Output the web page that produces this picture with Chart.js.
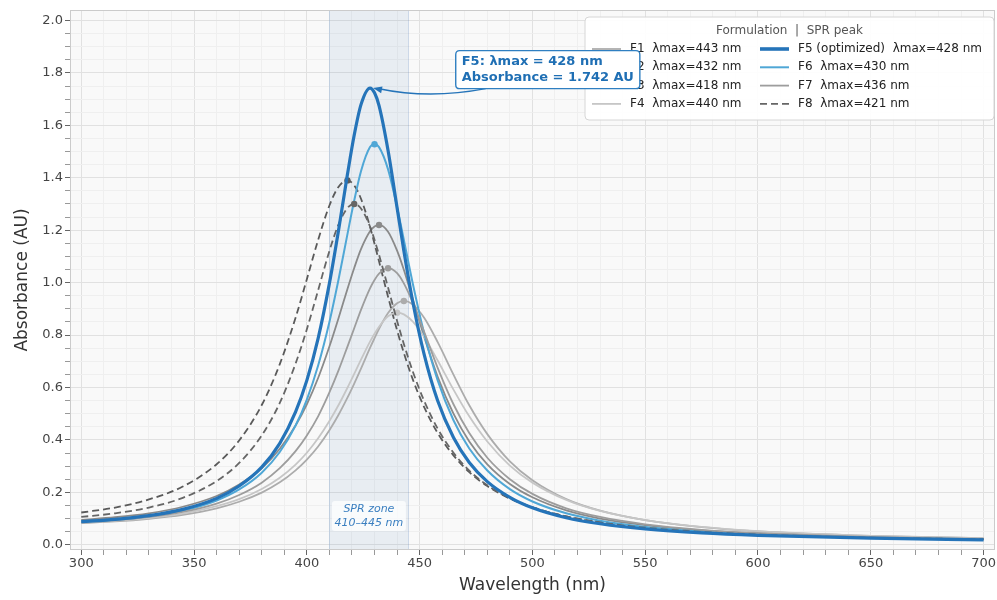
<!DOCTYPE html>
<html>
<head>
<meta charset="utf-8">
<script src="https://cdn.jsdelivr.net/npm/chart.js@4.4.0/dist/chart.umd.min.js"></script>
<style>
  html, body { margin: 0; padding: 0; background: #fff; }
  #wrap { width: 997px; height: 600px; }
</style>
</head>
<body>
<div id="wrap"><canvas id="sprChart" width="997" height="600"></canvas></div>
<script>
// wavelength grid (nm) shared by all spectra
var wavelengths = [300,315,330,345,360,370,380,388,395,400,405,410,414,418,421,424,428,430,432,436,
                   440,443,447,452,458,465,472,480,490,500,515,530,550,575,600,650,700];

// absorbance (AU)
var f1 = [.083,.089,.099,.114,.139,.164,.199,.238,.284,.325,.375,.437,.495,.561,.615,.672,.751,.788,.824,.884,
          .921,.930,.916,.866,.773,.649,.532,.422,.318,.246,.174,.130,.094,.067,.051,.034,.025];
var f2 = [.095,.105,.120,.145,.186,.230,.292,.366,.455,.536,.636,.756,.863,.976,1.056,1.128,1.196,1.214,1.220,1.194,
          1.122,1.049,.936,.794,.641,.500,.394,.307,.232,.181,.131,.100,.075,.055,.043,.029,.022];
var f3 = [.123,.142,.173,.222,.307,.398,.533,.689,.866,1.013,1.163,1.294,1.365,1.390,1.371,1.320,1.213,1.148,1.081,.946,
          .818,.732,.630,.525,.426,.341,.277,.224,.176,.143,.108,.086,.066,.050,.040,.028,.022];
var f4 = [.085,.092,.102,.119,.147,.174,.213,.256,.306,.351,.406,.472,.532,.599,.652,.706,.775,.805,.832,.872,
          .885,.879,.851,.793,.703,.592,.490,.394,.302,.237,.171,.129,.094,.068,.052,.034,.025];
var f5 = [.088,.097,.111,.135,.177,.224,.296,.387,.507,.627,.787,.997,1.197,1.413,1.563,1.679,1.742,1.724,1.675,1.504,
          1.286,1.122,.925,.726,.549,.409,.314,.241,.181,.141,.103,.080,.060,.045,.036,.025,.019];
var f6 = [.087,.095,.108,.130,.169,.211,.275,.354,.455,.554,.684,.850,1.010,1.185,1.313,1.425,1.517,1.528,1.517,1.432,
          1.288,1.163,.995,.807,.627,.475,.367,.283,.212,.165,.120,.092,.068,.051,.040,.027,.021];
var f7 = [.087,.094,.106,.125,.157,.190,.237,.292,.357,.417,.490,.581,.664,.756,.826,.896,.978,1.010,1.034,1.055,
          1.036,.997,.923,.812,.675,.536,.426,.332,.250,.194,.139,.106,.078,.057,.044,.030,.022];
var f8 = [.106,.120,.142,.179,.243,.312,.417,.541,.691,.822,.971,1.121,1.221,1.285,1.300,1.283,1.214,1.163,1.106,.981,
          .854,.766,.660,.549,.443,.351,.283,.227,.178,.143,.108,.085,.065,.049,.039,.027,.021];

var formulations = ['F1','F2','F3','F4','F5 (optimized)','F6','F7','F8'];
var lambdaMax = [443,432,418,440,428,430,436,421];
var series = [f1,f2,f3,f4,f5,f6,f7,f8];

var xMajorTicks = [300,350,400,450,500,550,600,650,700];
var yMajorTicks = [0.0,0.2,0.4,0.6,0.8,1.0,1.2,1.4,1.6,1.8,2.0];
var sprZone = [410,445];
var f5PeakNm = 428, f5PeakAbs = 1.742;

// styles
var colors  = ['#acacac','#8a8a8a','#5a5a5a','#c6c6c6','#2574b9','#4fa7d6','#9d9d9d','#666666'];
var widths  = [1.8,1.8,1.8,1.8,3.2,2,1.8,1.8];
var dashes  = [[],[],[7,4],[],[],[],[],[7,4]];

var FONT = "'DejaVu Sans', sans-serif";
Chart.defaults.font.family = FONT;

function peakIndex(arr){ return arr.indexOf(Math.max.apply(null, arr)); }

var datasets = series.map(function(vals, i){
  var pk = peakIndex(vals);
  return {
    label: formulations[i] + '  \u03bbmax=' + lambdaMax[i] + ' nm',
    data: wavelengths.map(function(w, j){ return {x: w, y: vals[j]}; }),
    borderColor: colors[i],
    backgroundColor: colors[i],
    borderWidth: widths[i],
    borderDash: dashes[i],
    cubicInterpolationMode: 'monotone',
    fill: false,
    pointRadius: function(ctx){ return ctx.dataIndex === pk ? (i === 4 ? 0 : 3.2) : 0; },
    pointBorderWidth: 0,
    pointBackgroundColor: colors[i],
    order: i === 4 ? 0 : 8 - i
  };
});

function roundRect(ctx, x, y, w, h, r){
  ctx.beginPath();
  ctx.moveTo(x + r, y);
  ctx.lineTo(x + w - r, y); ctx.quadraticCurveTo(x + w, y, x + w, y + r);
  ctx.lineTo(x + w, y + h - r); ctx.quadraticCurveTo(x + w, y + h, x + w - r, y + h);
  ctx.lineTo(x + r, y + h); ctx.quadraticCurveTo(x, y + h, x, y + h - r);
  ctx.lineTo(x, y + r); ctx.quadraticCurveTo(x, y, x + r, y);
  ctx.closePath();
}

var decor = {
  id: 'decor',
  beforeDraw: function(chart){
    var c = chart.ctx, a = chart.chartArea;
    c.save();
    c.fillStyle = '#f9f9f9';
    c.fillRect(a.left, a.top, a.right - a.left, a.bottom - a.top);
    c.restore();
  },
  beforeDatasetsDraw: function(chart){
    var c = chart.ctx, a = chart.chartArea, xs = chart.scales.x, ys = chart.scales.y;
    var x0 = xs.getPixelForValue(sprZone[0]), x1 = xs.getPixelForValue(sprZone[1]);
    c.save();
    c.fillStyle = 'rgba(70,120,180,0.09)';
    c.fillRect(x0, a.top, x1 - x0, a.bottom - a.top);
    c.strokeStyle = 'rgba(70,120,180,0.22)';
    c.lineWidth = 1;
    c.beginPath();
    c.moveTo(Math.round(x0) + 0.5, a.top); c.lineTo(Math.round(x0) + 0.5, a.bottom);
    c.moveTo(Math.round(x1) + 0.5, a.top); c.lineTo(Math.round(x1) + 0.5, a.bottom);
    c.stroke();
    // zone label
    var cx = (x0 + x1) / 2, cy = ys.getPixelForValue(0.11);
    c.fillStyle = 'rgba(255,255,255,0.75)';
    roundRect(c, cx - 37, cy - 15, 74, 30, 3);
    c.fill();
    c.fillStyle = '#3a7fc0';
    c.font = 'italic 11px ' + FONT;
    c.textAlign = 'center';
    c.textBaseline = 'middle';
    c.fillText('SPR zone', cx, cy - 6.5);
    c.fillText('410\u2013445 nm', cx, cy + 7);
    c.restore();
  },
  afterDatasetsDraw: function(chart){
    var c = chart.ctx, a = chart.chartArea, xs = chart.scales.x, ys = chart.scales.y;
    c.save();
    // frame
    c.strokeStyle = '#cbcbcb';
    c.lineWidth = 1;
    c.strokeRect(Math.round(a.left) + 0.5, Math.round(a.top) + 0.5,
                 Math.round(a.right - a.left) - 1, Math.round(a.bottom - a.top) - 1);

    // legend
    var lx = 585, ly = a.top + 7, lw = 409, lh = 103;
    c.fillStyle = 'rgba(255,255,255,0.92)';
    roundRect(c, lx, ly, lw, lh, 4);
    c.fill();
    c.strokeStyle = '#d6d6d6';
    c.stroke();
    c.fillStyle = '#555';
    c.font = '12px ' + FONT;
    c.textAlign = 'center';
    c.textBaseline = 'middle';
    c.fillText('Formulation  |  SPR peak', lx + lw / 2, ly + 14);
    c.textAlign = 'left';
    datasets.forEach(function(ds, i){
      var col = i < 4 ? 0 : 1, row = i % 4;
      var x0 = lx + 7 + col * 168, yy = ly + 32 + row * 18.3;
      c.strokeStyle = ds.borderColor;
      c.lineWidth = i === 4 ? 3.6 : ds.borderWidth;
      c.setLineDash(ds.borderDash);
      c.beginPath(); c.moveTo(x0, yy); c.lineTo(x0 + 29, yy); c.stroke();
      c.setLineDash([]);
      c.fillStyle = '#222';
      c.font = '12px ' + FONT;
      c.fillText(ds.label, x0 + 38, yy);
    });

    // F5 peak annotation
    var px = xs.getPixelForValue(f5PeakNm), py = ys.getPixelForValue(f5PeakAbs);
    var bx = xs.getPixelForValue(466), by = ys.getPixelForValue(1.885);
    var l1 = 'F5: \u03bbmax = ' + f5PeakNm + ' nm', l2 = 'Absorbance = ' + f5PeakAbs.toFixed(3) + ' AU';
    c.font = 'bold 13px ' + FONT;
    var tw = Math.max(c.measureText(l1).width, c.measureText(l2).width);
    var bw = tw + 12, bh = 38;
    // arrow
    var sx = bx + 30, sy = by + bh;
    var tx = px + 3, ty = py;
    var qx = (sx + tx) / 2, qy = (sy + ty) / 2 + 11;
    c.strokeStyle = '#2574b9';
    c.lineWidth = 1.5;
    c.beginPath(); c.moveTo(sx, sy); c.quadraticCurveTo(qx, qy, tx + 6, ty + 0.6); c.stroke();
    var ang = Math.atan2(ty - qy, tx - qx);
    c.fillStyle = '#2574b9';
    c.beginPath();
    c.moveTo(tx, ty);
    c.lineTo(tx - 9 * Math.cos(ang) + 3.5 * Math.sin(ang), ty - 9 * Math.sin(ang) - 3.5 * Math.cos(ang));
    c.lineTo(tx - 9 * Math.cos(ang) - 3.5 * Math.sin(ang), ty - 9 * Math.sin(ang) + 3.5 * Math.cos(ang));
    c.closePath(); c.fill();
    // box
    c.fillStyle = '#ffffff';
    roundRect(c, bx, by, bw, bh, 4);
    c.fill();
    c.strokeStyle = '#2f7fc1';
    c.lineWidth = 1.4;
    c.stroke();
    c.fillStyle = '#1f6fb4';
    c.textAlign = 'left';
    c.textBaseline = 'middle';
    c.fillText(l1, bx + 6, by + 11);
    c.fillText(l2, bx + 6, by + 26.5);
    c.restore();
  }
};

function minorTicks(lo, hi, n, div){
  var t = [];
  for (var i = lo; i <= hi; i++) t.push({value: i / div});
  return t;
}

var ctx = document.getElementById('sprChart').getContext('2d');
var chart = new Chart(ctx, {
  type: 'line',
  data: { datasets: datasets },
  plugins: [decor],
  options: {
    responsive: false,
    animation: false,
    devicePixelRatio: 1,
    layout: { padding: { top: 10, right: 2, left: 0, bottom: 0 } },
    plugins: { legend: { display: false }, tooltip: { enabled: false } },
    scales: {
      x: {
        type: 'linear', min: 295, max: 705,
        afterBuildTicks: function(scale){ scale.ticks = minorTicks(30, 70, 0, 0.1); },
        afterFit: function(scale){ scale.height = 50; },
        border: { display: false },
        grid: {
          color: function(c){ return c.tick && xMajorTicks.indexOf(Math.round(c.tick.value)) >= 0 ? '#e1e1e1' : '#efefef'; },
          lineWidth: 1,
          tickLength: 5,
          tickColor: function(c){ return c.tick && xMajorTicks.indexOf(Math.round(c.tick.value)) >= 0 ? '#666' : '#999'; }
        },
        ticks: {
          autoSkip: false, maxRotation: 0, padding: 1,
          color: '#444', font: { size: 13 },
          callback: function(v){ return xMajorTicks.indexOf(Math.round(v)) >= 0 ? Math.round(v) : ''; }
        },
        title: { display: true, text: 'Wavelength (nm)', color: '#333', font: { size: 17 }, padding: { top: 7 } }
      },
      y: {
        type: 'linear', min: -0.02, max: 2.04,
        afterBuildTicks: function(scale){ scale.ticks = minorTicks(0, 40, 0, 20); },
        afterFit: function(scale){ scale.width = 70; },
        border: { display: false },
        grid: {
          color: function(c){ return c.tick && Math.round(c.tick.value * 20) % 4 === 0 ? '#e1e1e1' : '#efefef'; },
          lineWidth: 1,
          tickLength: 5,
          tickColor: function(c){ return c.tick && Math.round(c.tick.value * 20) % 4 === 0 ? '#666' : '#999'; }
        },
        ticks: {
          autoSkip: false, padding: 2,
          color: '#444', font: { size: 13 },
          callback: function(v){ return Math.round(v * 20) % 4 === 0 ? v.toFixed(1) : ''; }
        },
        title: { display: true, text: 'Absorbance (AU)', color: '#333', font: { size: 17 }, padding: { top: 12 } }
      }
    }
  }
});
</script>
</body>
</html>
